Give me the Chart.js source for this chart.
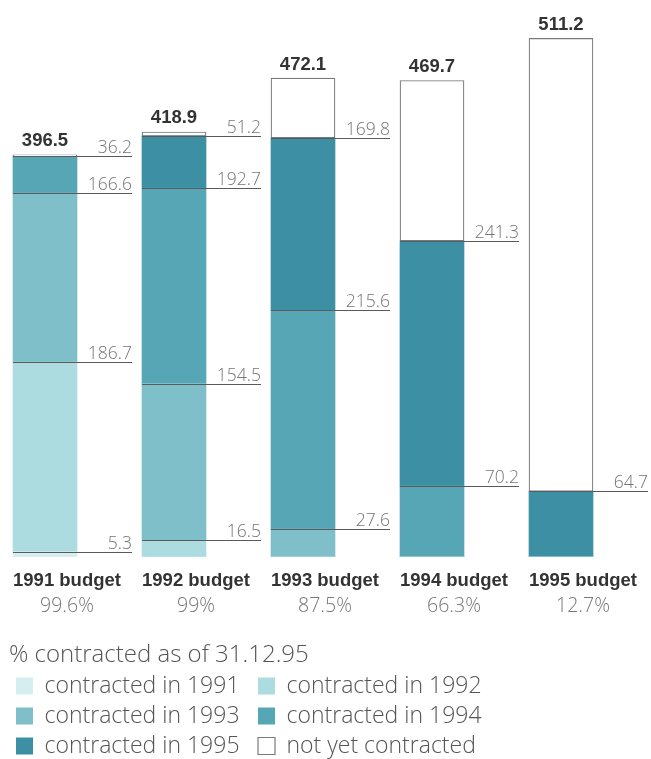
<!DOCTYPE html>
<html>
<head>
<meta charset="utf-8">
<script src="https://cdn.jsdelivr.net/npm/chart.js@4.4.1/dist/chart.umd.min.js"></script>
<style>
  html, body { margin: 0; padding: 0; background: #fff; }
  #wrap { width: 651px; height: 759px; }
</style>
</head>
<body>
<div id="wrap"><canvas id="budgetChart"></canvas></div>
<script>
// budget years and how much of each has been contracted, per year of contracting
const budgets = ['1991 budget', '1992 budget', '1993 budget', '1994 budget', '1995 budget'];
const contractedShare = ['99.6%', '99%', '87.5%', '66.3%', '12.7%'];
const budgetTotals = [396.5, 418.9, 472.1, 469.7, 511.2];

const contracted1991 = [5.3, 0, 0, 0, 0];
const contracted1992 = [186.7, 16.5, 0, 0, 0];
const contracted1993 = [166.6, 154.5, 27.6, 0, 0];
const contracted1994 = [36.2, 192.7, 215.6, 70.2, 0];
const contracted1995 = [0, 51.2, 169.8, 241.3, 64.7];
const notYetContracted = [1.7, 4.0, 59.1, 158.2, 446.5];

const LIGHT = '"Open Sans", "Liberation Sans", sans-serif';
const BOLD = '"Liberation Sans", Arial, sans-serif';

const contractedSeries = [contracted1991, contracted1992, contracted1993, contracted1994, contracted1995];

const toPoints = (arr) => arr.map((v, i) => ({ x: i, y: v }));

function bar(label, values, color, extra) {
    return Object.assign({
        label: label,
        data: toPoints(values),
        backgroundColor: color,
        borderWidth: 0,
        barThickness: 64,
    }, extra || {});
}

// value labels with leader lines, plus the bold budget totals on top
const segmentLabels = {
    id: 'segmentLabels',
    afterDatasetsDraw(chart) {
        const { ctx } = chart;
        const x = chart.scales.x;
        const y = chart.scales.y;
        const barMeta = chart.getDatasetMeta(0);
        ctx.save();
        budgets.forEach((_, i) => {
            const cx = x.getPixelForValue(i);
            const half = barMeta.data[i].width / 2;
            const left = cx - half;
            const lineEnd = cx + half + 55;
            let running = 0;
            contractedSeries.forEach((series) => {
                const v = series[i];
                if (!v) return;
                running += v;
                const yy = Math.round(y.getPixelForValue(running)) + 0.5;
                ctx.strokeStyle = '#5a5a5a';
                ctx.lineWidth = 1.2;
                ctx.beginPath();
                ctx.moveTo(left, yy);
                ctx.lineTo(lineEnd, yy);
                ctx.stroke();
                ctx.fillStyle = '#757575';
                ctx.font = '300 17.5px ' + LIGHT;
                ctx.textAlign = 'right';
                ctx.textBaseline = 'alphabetic';
                ctx.fillText(v.toFixed(1), lineEnd, yy - 4);
            });
            ctx.fillStyle = '#333';
            ctx.font = 'bold 18.5px ' + BOLD;
            ctx.textAlign = 'center';
            ctx.textBaseline = 'alphabetic';
            ctx.fillText(budgetTotals[i].toFixed(1), cx, y.getPixelForValue(budgetTotals[i]) - 8.5);
        });
        ctx.restore();
    }
};

const tickAxis = (labels, font, color, height, pad, weight) => ({
    type: 'linear',
    position: 'bottom',
    weight: weight,
    offset: false,
    min: -0.27907,
    max: 4.69767,
    stacked: true,
    grid: { display: false, drawTicks: false, offset: false },
    border: { display: false },
    afterBuildTicks: (scale) => {
        scale.ticks = labels.map((_, i) => ({ value: i }));
    },
    afterFit: (scale) => {
        scale.height = height;
        scale.paddingLeft = 0;
        scale.paddingRight = 0;
    },
    ticks: {
        callback: (value) => labels[value],
        font: font,
        color: color,
        labelOffset: 22,
        padding: pad,
        maxRotation: 0,
        autoSkip: false,
    },
});

// a little room after the first-column entries so the second column lines up
const legendLabels = (chart) =>
    Chart.defaults.plugins.legend.labels.generateLabels(chart).map((item) => {
        item.text = item.text + '\u2002';
        return item;
    });

new Chart(document.getElementById('budgetChart'), {
    type: 'bar',
    data: {
        datasets: [
            bar('contracted in 1991', contracted1991, '#d6eef0'),
            bar('contracted in 1992', contracted1992, '#acdbe0'),
            bar('contracted in 1993', contracted1993, '#7fbfc9'),
            bar('contracted in 1994', contracted1994, '#57a6b5'),
            bar('contracted in 1995', contracted1995, '#3d8fa3'),
            bar('not yet contracted', notYetContracted, '#ffffff', {
                borderColor: '#7a7a7a',
                borderWidth: 1.2,
                borderSkipped: false,
            }),
        ],
    },
    options: {
        responsive: true,
        maintainAspectRatio: false,
        animation: false,
        layout: { padding: { left: 9, right: 0, top: 0, bottom: -8.5 } },
        scales: {
            x: tickAxis(budgets, { family: BOLD, size: 18.5, weight: 'bold' }, '#333', 38, 13, 0),
            xPct: tickAxis(contractedShare, { family: LIGHT, size: 19.5, weight: 300 }, '#777', 25, 0, 1),
            y: {
                display: false,
                stacked: true,
                min: 0,
                max: 549,
            },
        },
        plugins: {
            tooltip: { enabled: false },
            legend: {
                position: 'bottom',
                align: 'start',
                title: {
                    display: true,
                    text: '% contracted as of 31.12.95',
                    position: 'start',
                    color: '#555',
                    font: { family: LIGHT, size: 24, weight: 300, lineHeight: 1 },
                    padding: { top: 23, bottom: 0.5 },
                },
                labels: {
                    boxWidth: 17,
                    boxHeight: 17,
                    padding: 7,
                    color: '#555',
                    font: { family: LIGHT, size: 23, weight: 300 },
                    generateLabels: legendLabels,
                },
            },
        },
    },
    plugins: [segmentLabels],
});
</script>
</body>
</html>
